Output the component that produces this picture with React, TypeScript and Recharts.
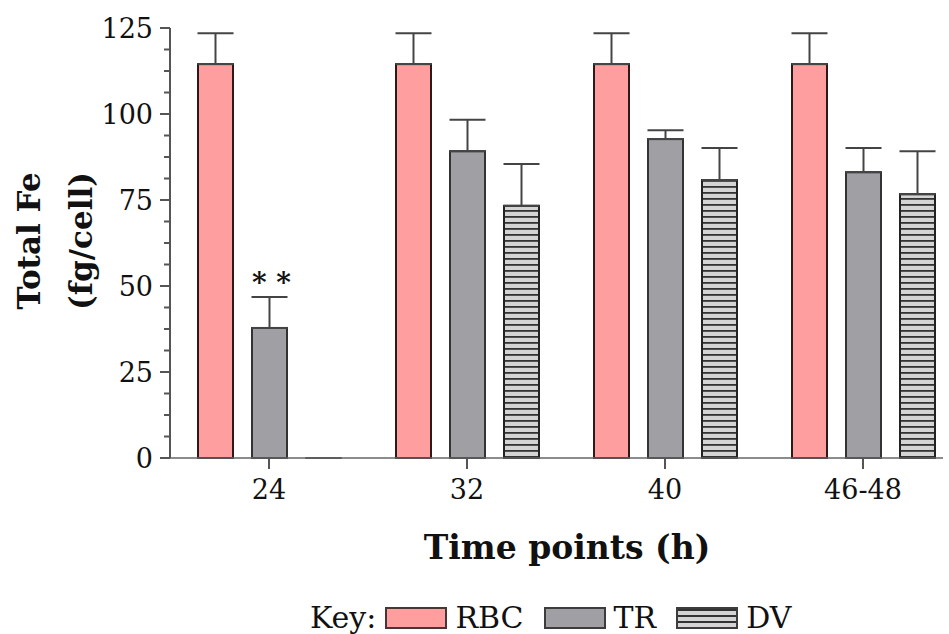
import { BarChart, Bar, XAxis, YAxis, ErrorBar, LabelList, Legend } from "recharts"

const timePoints = ["24", "32", "40", "46-48"]
const rbcValues = [114.5, 114.5, 114.5, 114.5]
const rbcErrors = [9, 9, 9, 9]
const trValues = [37.8, 89.2, 92.7, 83.1]
const trErrors = [9, 9.1, 2.6, 7]
const dvValues = [0, 73.3, 80.8, 76.7]
const dvErrors = [0, 12.2, 9.3, 12.5]
const significance = ["* *", "", "", ""]

const yTicks = [0, 6.25, 12.5, 18.75, 25, 31.25, 37.5, 43.75, 50, 56.25, 62.5, 68.75, 75, 81.25, 87.5, 93.75, 100, 106.25, 112.5, 118.75, 125]
const yLabelledTicks = [0, 25, 50, 75, 100, 125]
const seriesOrder = ["rbc", "tr", "dv"]

const data = timePoints.map((time, i) => ({
  time,
  rbc: rbcValues[i],
  rbcErr: [0, rbcErrors[i]],
  tr: trValues[i],
  trErr: [0, trErrors[i]],
  dv: dvValues[i],
  dvErr: [0, dvErrors[i]],
  sig: significance[i],
}))

const FONT = "'DejaVu Serif', serif"
const AXIS = "#555"

const swatches: Record<string, React.CSSProperties> = {
  rbc: { background: "#ff9e9e", border: "2px solid #4a3535" },
  tr: { background: "#a09fa4", border: "2px solid #3c3c3c" },
  dv: {
    background: "repeating-linear-gradient(to bottom, #333 0px, #333 2px, #d4d4d4 2px, #d4d4d4 6px)",
    border: "2px solid #3c3c3c",
  },
}

function BarShape(props: any) {
  const { x, y, width, height, fill, stroke } = props
  if (!height) {
    return <line x1={x} x2={x + width} y1={y} y2={y} stroke={stroke} strokeWidth={2} />
  }
  return <rect x={x} y={y} width={width} height={height} fill={fill} stroke={stroke} strokeWidth={2} />
}

function YTick({ x, y, payload }: any) {
  const major = yLabelledTicks.includes(payload.value)
  return (
    <g>
      <line x1={x - (major ? 10 : 6)} x2={x} y1={y} y2={y} stroke={AXIS} strokeWidth={2} />
      {major && (
        <text x={x - 17} y={y} dy="0.36em" textAnchor="end" fontFamily={FONT} fontSize={27} fill="#111">
          {payload.value}
        </text>
      )}
    </g>
  )
}

function YTitle() {
  return (
    <g fontFamily={FONT} fontWeight="bold" fontSize={31} fill="#111" textAnchor="middle">
      <text x={29} y={241} dy="0.35em" transform="rotate(-90 29 241)">Total Fe</text>
      <text x={81} y={241} dy="0.35em" transform="rotate(-90 81 241)">(fg/cell)</text>
    </g>
  )
}

function XTitle() {
  return (
    <text x={567} y={547} dy="0.35em" textAnchor="middle" fontFamily={FONT} fontWeight="bold" fontSize={33} fill="#111">
      Time points (h)
    </text>
  )
}

function SigLabel({ x, y, width, value }: any) {
  if (!value) return null
  return (
    <text x={x + width / 2 + 2} y={y - 36} textAnchor="middle" fontFamily={FONT} fontWeight="bold" fontSize={28} fill="#111">
      {value}
    </text>
  )
}

function KeyLegend({ payload }: any) {
  const items = [...(payload ?? [])].sort(
    (a: any, b: any) => seriesOrder.indexOf(a.dataKey) - seriesOrder.indexOf(b.dataKey)
  )
  return (
    <div style={{ display: "flex", alignItems: "center", fontFamily: FONT, fontSize: 30, lineHeight: "30px", color: "#111", paddingLeft: 310, height: 32 }}>
      <span style={{ marginRight: 9 }}>Key:</span>
      {items.map((entry: any) => (
        <span key={entry.dataKey} style={{ display: "flex", alignItems: "center", marginRight: 20 }}>
          <span style={{ display: "inline-block", width: 58, height: 18, boxSizing: "content-box", ...swatches[entry.dataKey] }} />
          <span style={{ marginLeft: 8 }}>{entry.value}</span>
        </span>
      ))}
    </div>
  )
}

export default function App() {
  return (
    <div style={{ position: "absolute", left: 0, top: 0, background: "#fff" }}>
      <BarChart
        width={949}
        height={634}
        data={data}
        margin={{ top: 28, right: 6, left: 0, bottom: 44 }}
        barSize={35}
        barGap={19}
      >
        <defs>
          <pattern id="dvStripes" width="6" height="6" patternUnits="userSpaceOnUse">
            <rect width="6" height="6" fill="#d4d4d4" />
            <rect width="6" height="1.8" fill="#333" />
          </pattern>
        </defs>
        <XAxis
          dataKey="time"
          height={100}
          padding={{ left: 0, right: -19 }}
          axisLine={{ stroke: "#666", strokeWidth: 1.5 }}
          tickLine={{ stroke: AXIS, strokeWidth: 2 }}
          tickSize={11}
          tickMargin={11}
          tick={{ fontFamily: FONT, fontSize: 27, fill: "#111" }}
          label={<XTitle />}
        />
        <YAxis
          width={170}
          domain={[0, 125]}
          ticks={yTicks}
          interval={0}
          axisLine={{ stroke: AXIS, strokeWidth: 2 }}
          tickLine={false}
          tickSize={0}
          tickMargin={0}
          tick={<YTick />}
          label={<YTitle />}
        />
        <Legend
          verticalAlign="bottom"
          wrapperStyle={{ left: 0, top: 602, width: 949 }}
          content={<KeyLegend />}
        />
        <Bar dataKey="rbc" name="RBC" fill="#ff9e9e" stroke="#2a1a1a" shape={BarShape} isAnimationActive={false}>
          <ErrorBar dataKey="rbcErr" direction="y" width={18} stroke="#444" strokeWidth={2} />
        </Bar>
        <Bar dataKey="tr" name="TR" fill="#a09fa4" stroke="#333" shape={BarShape} isAnimationActive={false}>
          <ErrorBar dataKey="trErr" direction="y" width={18} stroke="#444" strokeWidth={2} />
          <LabelList dataKey="sig" content={<SigLabel />} />
        </Bar>
        <Bar dataKey="dv" name="DV" fill="url(#dvStripes)" stroke="#222" shape={BarShape} isAnimationActive={false}>
          <ErrorBar dataKey="dvErr" direction="y" width={18} stroke="#444" strokeWidth={2} />
        </Bar>
      </BarChart>
    </div>
  )
}
